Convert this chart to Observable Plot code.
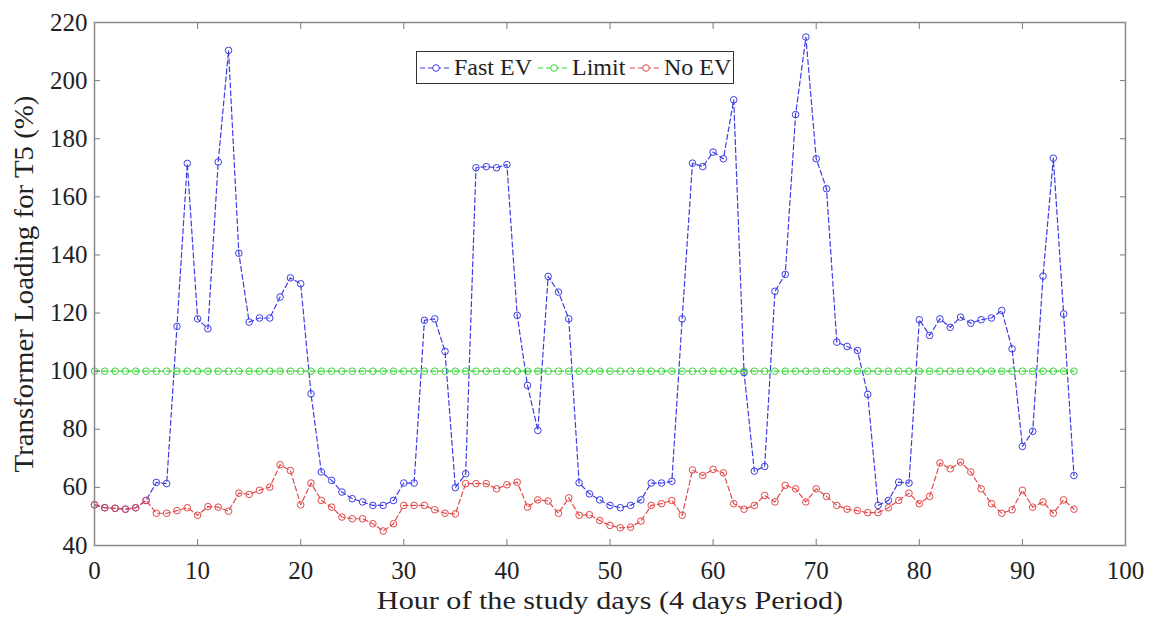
<!DOCTYPE html>
<html>
<head>
<meta charset="utf-8">
<script src="https://cdn.jsdelivr.net/npm/d3@7"></script>
<script src="https://cdn.jsdelivr.net/npm/@observablehq/plot@0.6"></script>
<style>
  html, body { margin: 0; padding: 0; background: #fff; }
  #wrap { position: relative; width: 1151px; height: 619px; }
  #legend { position: absolute; left: 416px; top: 51px; width: 316px; height: 31px;
    border: 1px solid #333; background: #fff; font-family: "Liberation Serif", serif; font-size: 24px; color: #222; }
  .item { position: absolute; top: 0; height: 31px; display: flex; align-items: center; }
  .item svg { display: block; }
</style>
</head>
<body>
<div id="wrap"></div>
<script>
const hours = [0,1,2,3,4,5,6,7,8,9,10,11,12,13,14,15,16,17,18,19,20,21,22,23,24,25,26,27,28,29,30,31,32,33,34,35,36,37,38,39,40,41,42,43,44,45,46,47,48,49,50,51,52,53,54,55,56,57,58,59,60,61,62,63,64,65,66,67,68,69,70,71,72,73,74,75,76,77,78,79,80,81,82,83,84,85,86,87,88,89,90,91,92,93,94,95];
const fastEV = [54,53,52.8,52.5,53,55.5,61.7,61.3,115.4,171.5,118,114.6,172,210.4,140.6,116.9,118.3,118.3,125.5,132.1,130.1,92.2,65.3,62.4,58.4,56.1,55,53.8,53.8,55.5,61.5,61.5,117.5,118,106.8,59.9,64.7,170,170.4,170,171.1,119.2,95.1,79.6,132.6,127.2,118,61.6,57.8,55.7,53.8,53,53.8,55.7,61.5,61.5,62.1,118,171.6,170.4,175.4,173.1,193.4,99.5,65.6,67.2,127.5,133.3,188.3,215,173.1,162.8,110,108.5,107.1,92,53.8,55.5,61.8,61.5,117.7,112.3,118,115.1,118.6,116.5,117.7,118.3,120.9,107.7,74.1,79.3,132.7,173.3,119.7,64.1];
const limit = [100,100,100,100,100,100,100,100,100,100,100,100,100,100,100,100,100,100,100,100,100,100,100,100,100,100,100,100,100,100,100,100,100,100,100,100,100,100,100,100,100,100,100,100,100,100,100,100,100,100,100,100,100,100,100,100,100,100,100,100,100,100,100,100,100,100,100,100,100,100,100,100,100,100,100,100,100,100,100,100,100,100,100,100,100,100,100,100,100,100,100,100,100,100,100,100];
const noEV = [54,53,52.8,52.5,53,55.5,51.1,51.1,52,53,50.4,53.4,53.2,51.8,58,57.6,59,60.1,67.8,65.8,54,61.5,55.5,53.2,49.8,49.2,49.2,47.5,45,47.5,53.8,53.8,53.8,52.3,51.1,50.9,61.3,61.3,61.3,59.5,60.9,61.8,53.2,55.7,55.3,51.1,56.4,50.4,50.6,48.6,46.9,46.1,46.3,48.4,53.8,54.4,55.5,50.4,66,64.1,66.2,65,54.4,52.5,53.8,57.2,55,60.7,59.5,55,59.5,56.9,53.8,52.5,52,51.3,51.3,53,55.5,58,54.4,56.9,68.4,66.4,68.7,65.3,59.5,54.4,51.1,52.3,59,53.2,55,51.1,55.7,52.5];
const xTicks = [0,10,20,30,40,50,60,70,80,90,100];
const yTicks = [40,60,80,100,120,140,160,180,200,220];
const seriesNames = ["Fast EV", "Limit", "No EV"];
const seriesColors = ["#3c3ce6", "#36d636", "#e34848"];
const xLabel = "Hour of the study days (4 days Period)";
const yLabel = "Transformer Loading for T5 (%)";

const seriesValues = [fastEV, limit, noEV];
const seriesMarks = seriesValues.flatMap((vals, k) => {
  const rows = hours.map((h, i) => ({h, v: vals[i]}));
  return [
    Plot.line(rows, {x: "h", y: "v", stroke: seriesColors[k], strokeWidth: 1.2, strokeDasharray: "5,3"}),
    Plot.dot(rows, {x: "h", y: "v", stroke: seriesColors[k], fill: "none", r: 3.3, strokeWidth: 1})
  ];
});

const chart = Plot.plot({
  width: 1151, height: 619,
  marginLeft: 94, marginRight: 26, marginTop: 22, marginBottom: 74,
  x: {domain: [0, 100], label: null},
  y: {domain: [40, 220], label: null},
  style: {fontFamily: "'Liberation Serif', serif", fontSize: "25px", color: "#222", background: "#fff"},
  marks: [
    ...seriesMarks,
    Plot.axisX(xTicks, {anchor: "bottom", tickSize: -6, tickPadding: 22, stroke: "#777", fontSize: 25, label: null}),
    Plot.axisX(xTicks, {anchor: "top", tickSize: -6, tickFormat: () => "", stroke: "#777", label: null}),
    Plot.axisY(yTicks, {anchor: "left", tickSize: -6, tickPadding: 13, stroke: "#777", fontSize: 25, label: null}),
    Plot.axisY(yTicks, {anchor: "right", tickSize: -6, tickFormat: () => "", stroke: "#777", label: null}),
    Plot.frame({stroke: "#888", strokeWidth: 1.5}),
    Plot.text([yLabel], {text: d => d, frameAnchor: "left", textAnchor: "middle", rotate: -90, dx: -70, fontSize: 27, fill: "#222"}),
    Plot.text([xLabel], {text: d => d, frameAnchor: "bottom", textAnchor: "middle", dy: 63, fontSize: 26, fill: "#222"})
  ]
});
const wrap = document.getElementById("wrap");
wrap.appendChild(chart);

// stretch the axis titles horizontally along their baseline, like the reference's type
d3.select(chart).selectAll("g[aria-label='text'] text").each(function() {
  const t = d3.select(this);
  const isRot = (t.attr("transform") || "").includes("rotate");
  t.attr("transform", (t.attr("transform") || "") + (isRot ? " scale(1.07,1)" : " scale(1.16,1)"));
});

// legend
const legend = document.createElement("div");
legend.id = "legend";
const itemLefts = [2, 120, 212];
seriesNames.forEach((name, k) => {
  const item = document.createElement("div");
  item.className = "item";
  item.style.left = itemLefts[k] + "px";
  const sw = d3.create("svg").attr("width", 34).attr("height", 20);
  sw.append("line").attr("x1", 1).attr("x2", 33).attr("y1", 10).attr("y2", 10)
    .attr("stroke", seriesColors[k]).attr("stroke-width", 1.2).attr("stroke-dasharray", "5,3");
  sw.append("circle").attr("cx", 17).attr("cy", 10).attr("r", 3.3)
    .attr("stroke", seriesColors[k]).attr("fill", "#fff");
  item.appendChild(sw.node());
  const t = document.createElement("span");
  t.textContent = name;
  t.style.marginLeft = "1px";
  item.appendChild(t);
  legend.appendChild(item);
});
wrap.appendChild(legend);
</script>
</body>
</html>
